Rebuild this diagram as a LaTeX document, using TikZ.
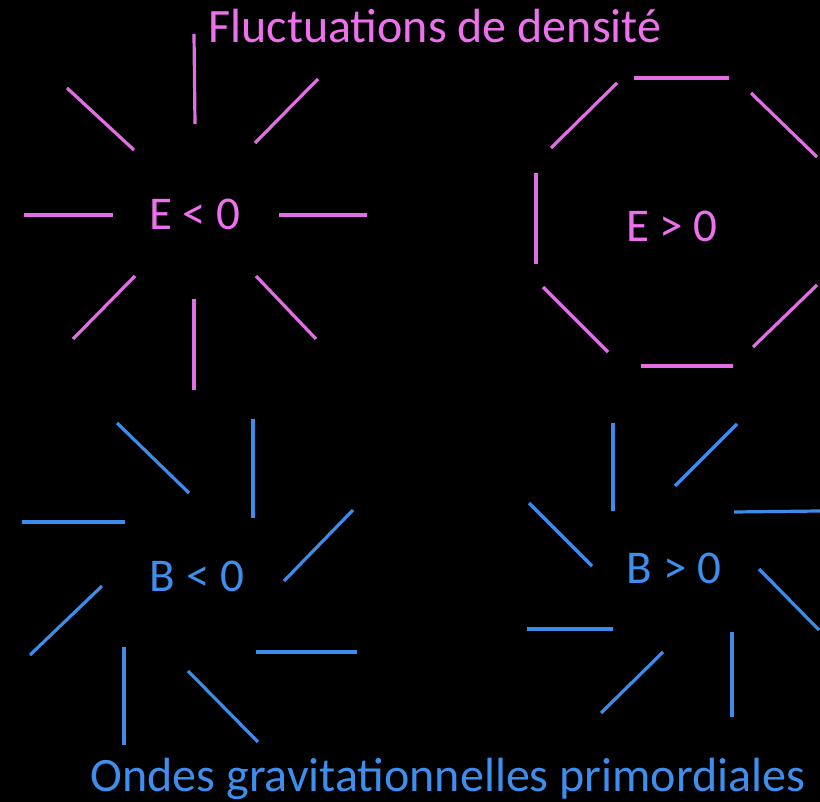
\documentclass[tikz,border=0pt]{standalone}
\usepackage{fontspec}
\setmainfont{Carlito}
\definecolor{pinkline}{RGB}{226,110,230}
\definecolor{pinktext}{RGB}{238,112,238}
\definecolor{blueline}{RGB}{60,140,235}
\definecolor{bluetext}{RGB}{62,142,238}
\tikzset{
  pk/.style={draw=pinkline, line width=3.2pt},
  bl/.style={draw=blueline, line width=3.2pt},
  lbl/.style={anchor=base, inner sep=0pt, font=\fontsize{47}{50}\selectfont},
  ttl/.style={anchor=base, inner sep=0pt, font=\fontsize{48}{52}\selectfont},
}
\begin{document}
\begin{tikzpicture}[x=1pt,y=-1pt]
\fill[black] (0,0) rectangle (820,802);
\useasboundingbox (0,0) rectangle (820,802);

% Titles
\node[ttl, text=pinktext] (t1) at (435,43) {Fluctuations de densité};
\node[ttl, text=bluetext] (t2) at (448,791) {Ondes gravitationnelles primordiales};

% E < 0
\node[lbl, text=pinktext] (e1) at (195,230) {E < 0};
\draw[pk] (194,34) -- (195,124);
\draw[pk] (67,88) -- (134,150);
\draw[pk] (318,79) -- (255,143);
\draw[pk] (24,215) -- (113,215);
\draw[pk] (279,215) -- (367,215);
\draw[pk] (135,276) -- (73,339);
\draw[pk] (256,276) -- (316,339);
\draw[pk] (194,299) -- (194,390);

% E > 0
\node[lbl, text=pinktext] (e2) at (672,242) {E > 0};
\draw[pk] (634,78) -- (729,78);
\draw[pk] (751,93) -- (817,157);
\draw[pk] (617,83) -- (551,148);
\draw[pk] (536,173) -- (536,264);
\draw[pk] (543,287) -- (608,352);
\draw[pk] (641,366) -- (733,366);
\draw[pk] (817,285) -- (753,347);

% B < 0
\node[lbl, text=bluetext] (b1) at (197,591) {B < 0};
\draw[bl] (117,423) -- (189,493);
\draw[bl] (253,419) -- (253,518);
\draw[bl] (353,510) -- (284,581);
\draw[bl] (22,522) -- (125,522);
\draw[bl] (102,586) -- (30,655);
\draw[bl] (256,652) -- (357,652);
\draw[bl] (124,647) -- (124,745);
\draw[bl] (188,671) -- (258,742);

% B > 0
\node[lbl, text=bluetext] (b2) at (674,583) {B > 0};
\draw[bl] (613,423) -- (613,511);
\draw[bl] (737,424) -- (675,486);
\draw[bl] (734,512) -- (820,511);
\draw[bl] (529,503) -- (592,566);
\draw[bl] (759,569) -- (819,630);
\draw[bl] (527,629) -- (613,629);
\draw[bl] (663,652) -- (601,713);
\draw[bl] (732,632) -- (732,717);
\end{tikzpicture}
\end{document}
